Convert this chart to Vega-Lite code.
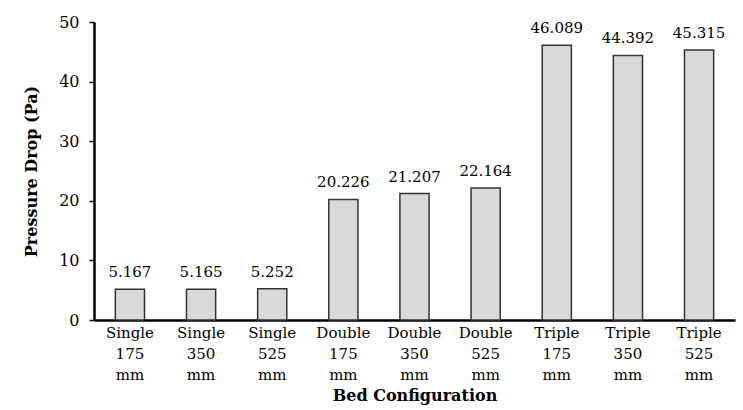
{
  "$schema": "https://vega.github.io/schema/vega-lite/v6.json",
  "width": 641,
  "height": 298,
  "autosize": {"type": "none"},
  "padding": {"left": 94, "top": 22, "right": 8, "bottom": 90},
  "background": "white",
  "config": {
    "view": {"stroke": null},
    "font": "DejaVu Serif"
  },
  "data": {
    "values": [
      {"config": "Single 175 mm", "dp": 5.167},
      {"config": "Single 350 mm", "dp": 5.165},
      {"config": "Single 525 mm", "dp": 5.252},
      {"config": "Double 175 mm", "dp": 20.226},
      {"config": "Double 350 mm", "dp": 21.207},
      {"config": "Double 525 mm", "dp": 22.164},
      {"config": "Triple 175 mm", "dp": 46.089},
      {"config": "Triple 350 mm", "dp": 44.392},
      {"config": "Triple 525 mm", "dp": 45.315}
    ]
  },
  "encoding": {
    "x": {
      "field": "config",
      "type": "nominal",
      "sort": null,
      "scale": {"paddingInner": 0.59, "paddingOuter": 0.3},
      "axis": {
        "title": "Bed Configuration",
        "titleFont": "DejaVu Serif",
        "titleFontSize": 16,
        "titleFontWeight": "bold",
        "titleColor": "black",
        "titlePadding": 5,
        "labelExpr": "split(datum.label, ' ')",
        "labelAngle": 0,
        "labelFont": "DejaVu Serif",
        "labelFontSize": 15,
        "labelColor": "black",
        "labelLineHeight": 21,
        "labelPadding": 5,
        "ticks": false,
        "domainColor": "black",
        "domainWidth": 2.5
      }
    },
    "y": {
      "field": "dp",
      "type": "quantitative",
      "scale": {"domain": [0, 50]},
      "axis": {
        "title": "Pressure Drop (Pa)",
        "titleFont": "DejaVu Serif",
        "titleFontSize": 16,
        "titleFontWeight": "bold",
        "titleColor": "black",
        "titlePadding": 19,
        "values": [0, 10, 20, 30, 40, 50],
        "labelFont": "DejaVu Serif",
        "labelFontSize": 16,
        "labelColor": "black",
        "labelPadding": 10,
        "grid": false,
        "tickColor": "black",
        "tickSize": 5,
        "tickWidth": 1.5,
        "domainColor": "black",
        "domainWidth": 2.5
      }
    }
  },
  "layer": [
    {
      "mark": {"type": "bar", "fill": "#d9d9d9", "stroke": "#333333", "strokeWidth": 1.5}
    },
    {
      "mark": {"type": "text", "baseline": "bottom", "dy": -9, "font": "DejaVu Serif", "fontSize": 15, "color": "black"},
      "encoding": {
        "text": {"field": "dp", "type": "quantitative", "format": ".3f"}
      }
    }
  ]
}
